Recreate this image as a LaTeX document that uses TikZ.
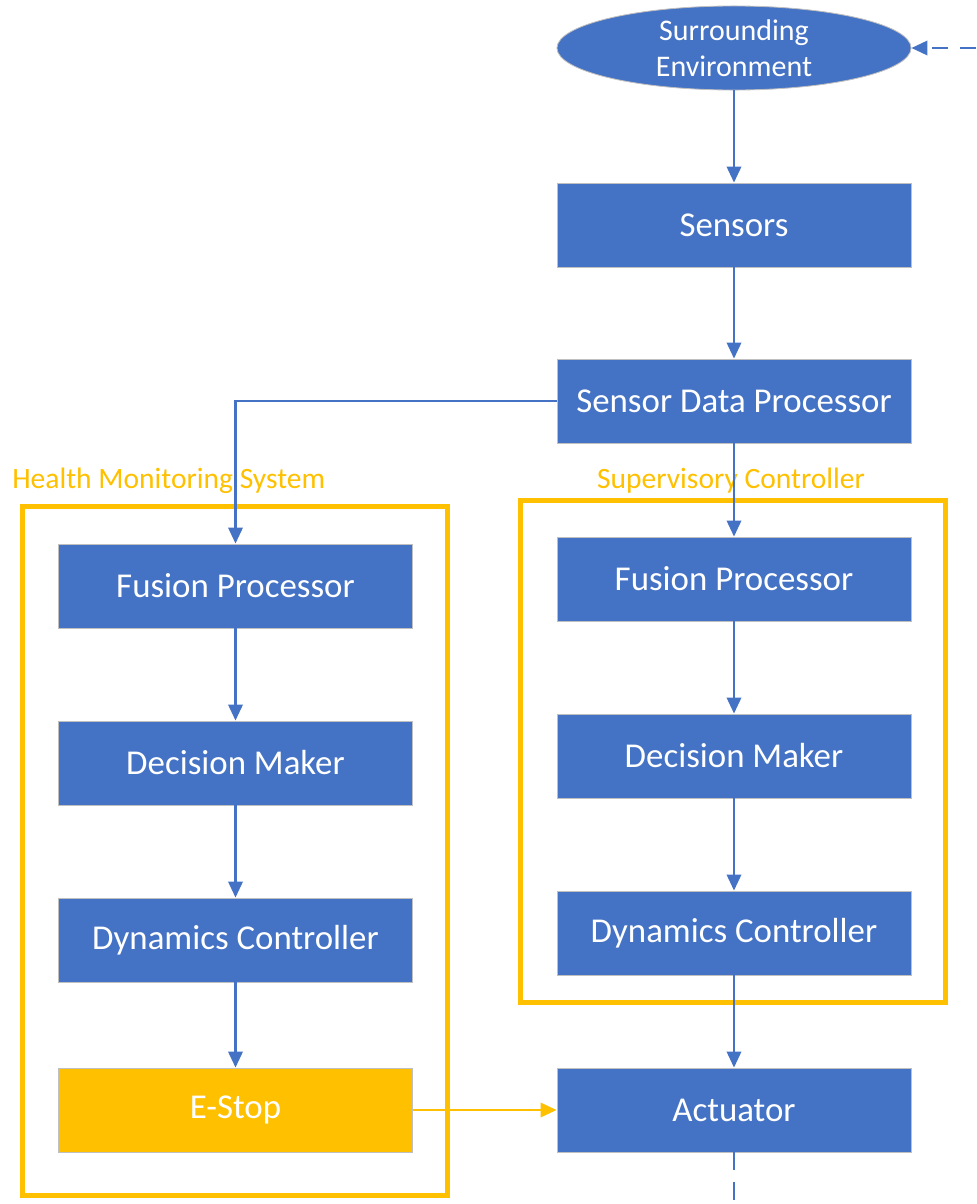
\documentclass[tikz,border=0pt]{standalone}
\usepackage{fontspec}
\setmainfont{Carlito}
\usetikzlibrary{arrows.meta,shapes.geometric}
\definecolor{boxBlue}{HTML}{4472C4}
\definecolor{frameGold}{HTML}{FFC000}
\definecolor{edgeGray}{HTML}{BFBFBF}

\tikzset{
  block/.style={draw=edgeGray, line width=0.6pt, fill=boxBlue, text=white,
    minimum width=8.85cm, minimum height=2.1cm, inner sep=0pt,
    font=\fontsize{24.8}{29}\selectfont},
  stopblock/.style={block, fill=frameGold},
  cloud/.style={ellipse, draw=edgeGray, line width=0.6pt, fill=boxBlue, text=white,
    minimum width=8.85cm, minimum height=2.1cm, inner sep=0pt, align=center,
    font=\fontsize{21.3}{26}\selectfont},
  frame/.style={draw=frameGold, line width=3.5pt, inner sep=0pt},
  tag/.style={text=frameGold, inner sep=0pt, font=\fontsize{21}{25}\selectfont},
  flow/.style={draw=boxBlue, line width=1.6pt, -{Triangle[width=0.36cm,length=0.4cm]}},
  stopflow/.style={flow, draw=frameGold, fill=frameGold},
}

\begin{document}
\begin{tikzpicture}[x=0.025cm, y=-0.025cm]
    \useasboundingbox (0,0) rectangle (976,1204);

    % Group frames and their titles
    \node[frame, minimum width=10.6cm, minimum height=17.2cm] (hmsFrame) at (235,851) {};
    \node[frame, minimum width=10.6cm, minimum height=12.55cm] (supFrame) at (733,751.5) {};
    \node[tag, anchor=west] (hmsTag) at (12,481) {Health Monitoring System};
    \node[tag] (supTag) at (731,481) {Supervisory Controller};

    % Main chain
    \node[cloud] (env) at (734,48) {Surrounding\\Environment};
    \node[block] (sensors) at (734,225) {Sensors};
    \node[block] (sdp) at (734,401) {Sensor Data Processor};

    % Left column - health monitoring
    \node[block] (fusionL) at (235.5,586) {Fusion Processor};
    \node[block] (decisionL) at (235.5,763) {Decision Maker};
    \node[block] (dynamicsL) at (235.5,940) {Dynamics Controller};
    \node[stopblock] (estop) at (235.5,1110) {E-Stop};

    % Right column - supervisory controller
    \node[block] (fusionR) at (734,579) {Fusion Processor};
    \node[block] (decisionR) at (734,756) {Decision Maker};
    \node[block] (dynamicsR) at (734,933) {Dynamics Controller};
    \node[block] (actuator) at (734,1110) {Actuator};

    \coordinate (feedIn) at (976,48);
    \coordinate (feedOut) at (734,1204);

    % Connectors
    \draw[flow, dash pattern=on 0.4cm off 0.3cm] (feedIn) -- (env.east);
    \draw[flow] (env) -- (sensors);
    \draw[flow] (sensors) -- (sdp);
    \draw[flow] (sdp.west) -| (fusionL.north);
    \draw[flow] (sdp) -- (fusionR);
    \draw[flow] (fusionL) -- (decisionL);
    \draw[flow] (decisionL) -- (dynamicsL);
    \draw[flow] (dynamicsL) -- (estop);
    \draw[flow] (fusionR) -- (decisionR);
    \draw[flow] (decisionR) -- (dynamicsR);
    \draw[flow] (dynamicsR) -- (actuator);
    \draw[stopflow] (estop) -- (actuator);
    \draw[draw=boxBlue, line width=1.6pt, dash pattern=on 0.45cm off 0.3cm] (actuator) -- (feedOut);
\end{tikzpicture}
\end{document}
